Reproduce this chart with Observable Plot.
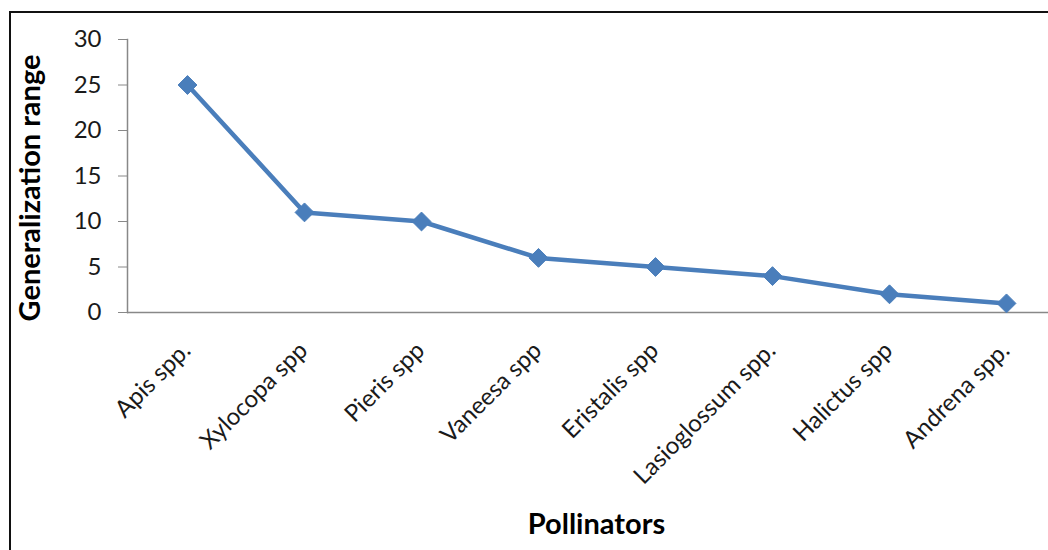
<!DOCTYPE html>
<html>
<head>
<meta charset="utf-8">
<script src="https://cdn.jsdelivr.net/npm/d3@7"></script>
<script src="https://cdn.jsdelivr.net/npm/@observablehq/plot@0.6"></script>
<style>
  html, body { margin: 0; padding: 0; background: #fff; overflow: hidden; }
  #wrap { position: relative; width: 1048px; height: 550px; overflow: hidden; }
  #box { position: absolute; left: 9px; top: 11px; width: 1100px; height: 600px; border: 2px solid #111; box-sizing: border-box; }
  #chart { position: absolute; left: 0; top: 0; }
</style>
</head>
<body>
<div id="wrap">
  <div id="box"></div>
  <div id="chart"></div>
</div>
<script>
// Pollinator taxa and how many plant species each visits
const pollinators = ["Apis spp.", "Xylocopa spp", "Pieris spp", "Vaneesa spp", "Eristalis spp", "Lasioglossum spp.", "Halictus spp", "Andrena spp."];
const generalization = [25, 11, 10, 6, 5, 4, 2, 1];
const yTicks = [0, 5, 10, 15, 20, 25, 30];

const data = pollinators.map((p, i) => ({pollinator: p, range: generalization[i]}));

const font = "Lato, 'Open Sans', sans-serif";
const blue = "#4a7ebb";
const axisGray = "#888";

const chart = Plot.plot({
  width: 1048,
  height: 550,
  marginLeft: 127,
  marginRight: -17,
  marginTop: 39,
  marginBottom: 238,
  style: {fontFamily: font, background: "transparent", color: "#1a1a1a"},
  x: {type: "point", domain: pollinators, padding: 0.5},
  y: {domain: [0, 30]},
  marks: [
    Plot.frame({anchor: "left", stroke: axisGray, strokeWidth: 1.5}),
    Plot.ruleY([0], {stroke: axisGray, strokeWidth: 1.5}),
    Plot.axisY({
      ticks: yTicks,
      tickSize: 9,
      tickPadding: 17,
      fontSize: 24,
      stroke: axisGray,
      label: null
    }),
    Plot.text(["Generalization range"], {
      frameAnchor: "left",
      dx: -97,
      dy: 12,
      rotate: -90,
      fontSize: 29,
      fontWeight: "bold",
      fill: "#000",
      textAnchor: "middle"
    }),
    Plot.axisX({
      tickSize: 0,
      tickPadding: 34,
      tickRotate: -45,
      fontSize: 24,
      dx: -1,
      label: null
    }),
    Plot.text(["Pollinators"], {
      frameAnchor: "bottom",
      dy: 221,
      fontSize: 29,
      fontWeight: "bold",
      fill: "#000"
    }),
    Plot.line(data, {x: "pollinator", y: "range", stroke: blue, strokeWidth: 4.5, strokeLinejoin: "round"}),
    Plot.dot(data, {x: "pollinator", y: "range", symbol: "diamond2", r: 8.5, fill: blue, stroke: blue, strokeWidth: 1})
  ]
});

document.getElementById("chart").appendChild(chart);
</script>
</body>
</html>
